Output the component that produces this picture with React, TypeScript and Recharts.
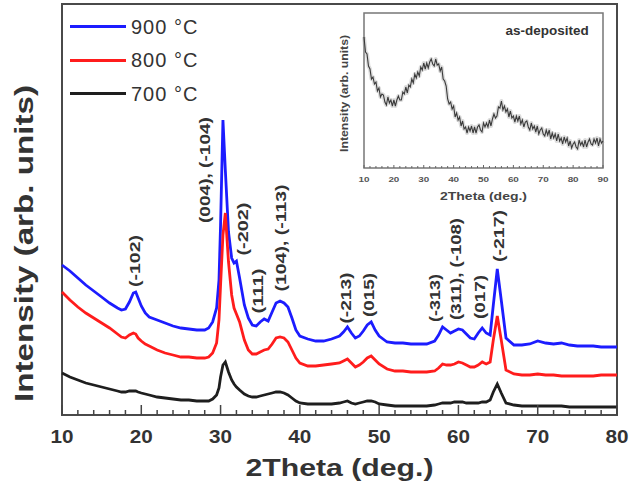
import React from 'react';
import { LineChart, Line, XAxis, YAxis, ReferenceArea, ReferenceDot, Legend } from 'recharts';

const FONT = '"Liberation Sans", Arial, Helvetica, sans-serif';

// ---- main pattern (2Theta in degrees, intensity in arbitrary units) ----
const twoTheta = [10, 11, 12, 13, 14, 15, 16, 17, 17.5, 18, 18.5, 19, 19.3, 19.6, 20, 20.5, 21, 22, 23, 24, 25, 26, 27, 28, 28.5, 29, 29.5, 29.8, 30, 30.3, 30.6, 31, 31.4, 31.7, 32, 32.4, 33, 33.5, 34, 34.5, 35, 35.5, 36, 36.5, 37, 37.5, 38, 38.5, 39, 39.5, 40, 41, 42, 43, 44, 45, 45.5, 46, 46.5, 47, 47.5, 48, 48.5, 49, 49.5, 50, 51, 52, 53, 54, 55, 56, 57, 57.5, 58, 58.5, 59, 59.5, 60, 60.5, 61, 61.5, 62, 62.5, 63, 63.5, 64, 64.4, 64.9, 65.4, 66, 67, 68, 69, 70, 71, 72, 73, 74, 75, 76, 77, 78, 79, 80];
const int900 = [150, 144, 137, 130, 124, 118, 112, 107, 105, 106, 113, 122, 123, 117, 109, 102, 98, 95, 92, 89, 87, 86, 85, 85, 87, 93, 107, 135, 190, 295, 245, 183, 157, 152, 154, 137, 110, 97, 90, 89, 93, 96, 94, 103, 112, 114, 112, 108, 97, 85, 79, 76, 74, 74, 76, 79, 83, 88, 82, 77, 79, 84, 90, 93, 85, 79, 73, 72, 72, 71, 71, 71, 74, 80, 88, 85, 82, 84, 86, 85, 81, 77, 76, 82, 87, 82, 80, 110, 146, 115, 77, 70, 70, 71, 74, 72, 71, 72, 70, 69, 69, 69, 68, 68, 68];
const int800 = [123, 115, 108, 102, 97, 92, 87, 81, 78, 77, 80, 82, 81, 77, 74, 71, 69, 65, 62, 60, 58, 58, 57, 57, 58, 62, 72, 95, 130, 180, 202, 153, 120, 107, 101, 93, 75, 65, 61, 61, 63, 65, 66, 71, 77, 78, 77, 73, 65, 57, 52, 49, 49, 50, 51, 52, 54, 56, 52, 48, 50, 53, 57, 59, 55, 51, 46, 44, 44, 43, 43, 43, 44, 47, 51, 50, 50, 51, 53, 52, 50, 48, 48, 50, 53, 51, 53, 75, 99, 75, 45, 41, 40, 40, 41, 40, 40, 39, 39, 39, 39, 39, 40, 40, 40];
const int700 = [42, 38, 35, 32, 30, 28, 26, 24, 23, 23, 24, 24, 24, 23, 22, 21, 20, 18, 17, 16, 15, 15, 14, 14, 14, 16, 20, 27, 38, 50, 53, 43, 35, 31, 28, 25, 21, 19, 18, 18, 19, 20, 21, 22, 23, 23, 22, 20, 17, 14, 12, 11, 11, 11, 11, 12, 13, 14, 12, 11, 12, 13, 14, 14, 13, 11, 10, 9, 9, 9, 9, 9, 10, 11, 12, 12, 12, 13, 13, 13, 12, 12, 12, 12, 13, 13, 15, 23, 31, 22, 12, 10, 9, 9, 9, 9, 9, 9, 8, 8, 8, 8, 8, 8, 8];

const mainTicks = [10, 12, 14, 16, 18, 20, 22, 24, 26, 28, 30, 32, 34, 36, 38, 40, 42, 44, 46, 48, 50, 52, 54, 56, 58, 60, 62, 64, 66, 68, 70, 72, 74, 76, 78, 80];

const seriesNames = ['900 °C', '800 °C', '700 °C'];
const seriesKeys = ['s900', 's800', 's700'];
const seriesColors = ['#1c1cff', '#ff1c1c', '#1e1e1e'];

// reflection labels: text, 2Theta position, intensity position of label centre
const peakLabels = ['(-102)', '(004), (-104)', '(-202)', '(111)', '(104), (-113)', '(-213)', '(015)', '(-313)', '(311), (-108)', '(017)', '(-217)'];
const peakLabelTheta = [19.2, 28.0, 32.8, 34.7, 37.5, 45.7, 48.6, 57.0, 59.6, 62.7, 65.0];
const peakLabelLevel = [154, 245, 186, 124, 177, 117, 120, 117, 146, 118, 179];
const peakLabelLength = [52, 106, 53, 45, 107, 51, 44, 48, 102, 44, 52];

// ---- inset: as-deposited ----
const asDepTheta = [10, 10.5, 11, 11.5, 12, 12.5, 13, 13.5, 14, 14.5, 15, 15.5, 16, 16.5, 17, 17.5, 18, 18.5, 19, 19.5, 20, 20.5, 21, 21.5, 22, 22.5, 23, 23.5, 24, 24.5, 25, 25.5, 26, 26.5, 27, 27.5, 28, 28.5, 29, 29.5, 30, 30.5, 31, 31.5, 32, 32.5, 33, 33.5, 34, 34.5, 35, 35.5, 36, 36.5, 37, 37.5, 38, 38.5, 39, 39.5, 40, 40.5, 41, 41.5, 42, 42.5, 43, 43.5, 44, 44.5, 45, 45.5, 46, 46.5, 47, 47.5, 48, 48.5, 49, 49.5, 50, 50.5, 51, 51.5, 52, 52.5, 53, 53.5, 54, 54.5, 55, 55.5, 56, 56.5, 57, 57.5, 58, 58.5, 59, 59.5, 60, 60.5, 61, 61.5, 62, 62.5, 63, 63.5, 64, 64.5, 65, 65.5, 66, 66.5, 67, 67.5, 68, 68.5, 69, 69.5, 70, 70.5, 71, 71.5, 72, 72.5, 73, 73.5, 74, 74.5, 75, 75.5, 76, 76.5, 77, 77.5, 78, 78.5, 79, 79.5, 80, 80.5, 81, 81.5, 82, 82.5, 83, 83.5, 84, 84.5, 85, 85.5, 86, 86.5, 87, 87.5, 88, 88.5, 89, 89.5, 90];
const asDepInt = [131, 116, 114, 102, 99, 89, 91, 84, 86, 77, 80, 71, 74, 73, 66, 63, 71, 65, 68, 62, 68, 62, 68, 72, 68, 68, 76, 74, 81, 75, 83, 81, 89, 85, 94, 90, 96, 92, 101, 98, 105, 99, 105, 100, 106, 109, 104, 102, 109, 103, 104, 97, 101, 89, 87, 82, 69, 64, 66, 59, 62, 51, 55, 48, 51, 42, 47, 39, 41, 35, 41, 37, 42, 35, 41, 35, 41, 43, 38, 36, 45, 41, 45, 41, 48, 42, 49, 54, 50, 52, 61, 60, 67, 58, 62, 56, 59, 51, 57, 50, 52, 46, 52, 47, 52, 44, 48, 41, 46, 47, 41, 38, 45, 39, 42, 36, 42, 34, 38, 40, 34, 32, 38, 33, 38, 29, 35, 30, 34, 27, 34, 27, 30, 24, 31, 26, 30, 22, 27, 20, 24, 26, 21, 19, 28, 23, 26, 21, 28, 21, 26, 29, 24, 23, 29, 25, 30, 22, 29, 25, 27];
const insetTicks = [10, 12, 14, 16, 18, 20, 22, 24, 26, 28, 30, 32, 34, 36, 38, 40, 42, 44, 46, 48, 50, 52, 54, 56, 58, 60, 62, 64, 66, 68, 70, 72, 74, 76, 78, 80, 82, 84, 86, 88, 90];

const mainData = twoTheta.map((t, i) => ({ t, s900: int900[i], s800: int800[i], s700: int700[i] }));
const insetData = asDepTheta.map((t, i) => ({ t, v: asDepInt[i] }));

const MainTick = (props: any) => {
  const { x, y, payload } = props;
  const v = payload.value;
  const major = v % 10 === 0;
  return (
    <g>
      <line x1={x} x2={x} y1={y} y2={y - (major ? 10 : 5)} stroke="#444" strokeWidth={1.5} />
      {major && (
        <text x={x} y={y + 28} textAnchor="middle" fontFamily={FONT} fontWeight="bold" fontSize={18} fill="#333" textLength={23} lengthAdjust="spacingAndGlyphs">
          {v}
        </text>
      )}
    </g>
  );
};

const InsetTick = (props: any) => {
  const { x, y, payload } = props;
  const v = payload.value;
  const major = v % 10 === 0;
  return (
    <g>
      <line x1={x} x2={x} y1={y} y2={y - (major ? 3 : 2)} stroke="#666" strokeWidth={1} />
      {major && (
        <text x={x} y={y + 14} textAnchor="middle" fontFamily={FONT} fontWeight="bold" fontSize={8} fill="#555" textLength={11} lengthAdjust="spacingAndGlyphs">
          {v}
        </text>
      )}
    </g>
  );
};

const mainXLabel = (props: any) => {
  const vb = props.viewBox;
  return (
    <text x={vb.x + vb.width / 2} y={vb.y + 61} textAnchor="middle" fontFamily={FONT} fontWeight="bold" fontSize={24} fill="#333" textLength={188} lengthAdjust="spacingAndGlyphs">
      2Theta (deg.)
    </text>
  );
};

const insetXLabel = (props: any) => {
  const vb = props.viewBox;
  return (
    <text x={vb.x + vb.width / 2} y={vb.y + 32} textAnchor="middle" fontFamily={FONT} fontWeight="bold" fontSize={10.5} fill="#444" textLength={87} lengthAdjust="spacingAndGlyphs">
      2Theta (deg.)
    </text>
  );
};

const makeRotated = (text: string, len: number, size: number, fill: string, central: boolean) => (p: any) => (
  <text
    x={p.cx}
    y={p.cy}
    transform={`rotate(-90 ${p.cx} ${p.cy})`}
    textAnchor="middle"
    dominantBaseline={central ? 'central' : undefined}
    fontFamily={FONT}
    fontWeight="bold"
    fontSize={size}
    fill={fill}
    textLength={len}
    lengthAdjust="spacingAndGlyphs"
  >
    {text}
  </text>
);

const asDepLabel = (p: any) => (
  <text x={p.cx} y={p.cy} textAnchor="middle" fontFamily={FONT} fontWeight="bold" fontSize={12} fill="#333" textLength={83} lengthAdjust="spacingAndGlyphs">
    as-deposited
  </text>
);

const renderLegend = () => (
  <div style={{ fontFamily: FONT }}>
    {seriesNames.map((n, i) => (
      <div key={n} style={{ display: 'flex', alignItems: 'center', height: 33.5 }}>
        <span style={{ display: 'inline-block', width: 56, height: 3, background: seriesColors[i] }} />
        <span style={{ marginLeft: 5, fontSize: 20, color: '#333', letterSpacing: 1, lineHeight: '20px' }}>{n}</span>
      </div>
    ))}
  </div>
);

export default function App() {
  return (
    <div style={{ position: 'absolute', left: 0, top: 0, width: 630, height: 483, background: '#fff' }}>
      <div style={{ position: 'absolute', left: 0, top: 0 }}>
        <LineChart width={630} height={483} data={mainData} margin={{ top: 4, right: 13, left: 62, bottom: 38 }}>
          <XAxis
            dataKey="t"
            type="number"
            domain={[10, 80]}
            ticks={mainTicks}
            interval={0}
            tickLine={false}
            axisLine={false}
            tickSize={0}
            tickMargin={0}
            height={30}
            tick={<MainTick />}
            label={mainXLabel}
          />
          <YAxis type="number" domain={[0, 411]} hide />
          <ReferenceArea x1={10} x2={80} y1={0} y2={411} fill="none" stroke="#4a4a4a" strokeWidth={2} />
          {[0, 1, 2].map((i) => (
            <Line
              key={seriesKeys[i]}
              dataKey={seriesKeys[i]}
              name={seriesNames[i]}
              stroke={seriesColors[i]}
              strokeWidth={2.8}
              dot={false}
              activeDot={false}
              isAnimationActive={false}
            />
          ))}
          {peakLabels.map((lab, i) => (
            <ReferenceDot key={lab} x={peakLabelTheta[i]} y={peakLabelLevel[i]} r={0} shape={makeRotated(lab, peakLabelLength[i], 15.5, '#333', true)} />
          ))}
          <ReferenceDot x={6.34} y={171.5} r={0} ifOverflow="visible" shape={makeRotated('Intensity (arb. units)', 317, 25, '#333', false)} />
          <Legend layout="vertical" align="center" verticalAlign="middle" wrapperStyle={{ left: 70, top: 10, width: 'auto' }} content={renderLegend} />
        </LineChart>
      </div>
      <div style={{ position: 'absolute', left: 330, top: 0 }}>
        <LineChart width={290} height={210} data={insetData} margin={{ top: 13, right: 17, left: 34, bottom: 12 }}>
          <XAxis
            dataKey="t"
            type="number"
            domain={[10, 90]}
            ticks={insetTicks}
            interval={0}
            tickLine={false}
            axisLine={false}
            tickSize={0}
            tickMargin={0}
            height={30}
            tick={<InsetTick />}
            label={insetXLabel}
          />
          <YAxis type="number" domain={[0, 155]} hide />
          <ReferenceArea x1={10} x2={90} y1={0} y2={155} fill="none" stroke="#777" strokeWidth={1.5} />
          <Line dataKey="v" stroke="#aaa" strokeOpacity={0.4} strokeWidth={4} strokeLinejoin="round" dot={false} activeDot={false} isAnimationActive={false} />
          <Line dataKey="v" stroke="#3a3a3a" strokeWidth={1.1} dot={false} activeDot={false} isAnimationActive={false} />
          <ReferenceDot x={71.3} y={133} r={0} shape={asDepLabel} />
          <ReferenceDot x={4.64} y={74.5} r={0} ifOverflow="visible" shape={makeRotated('Intensity (arb. units)', 117, 10, '#444', false)} />
        </LineChart>
      </div>
    </div>
  );
}
